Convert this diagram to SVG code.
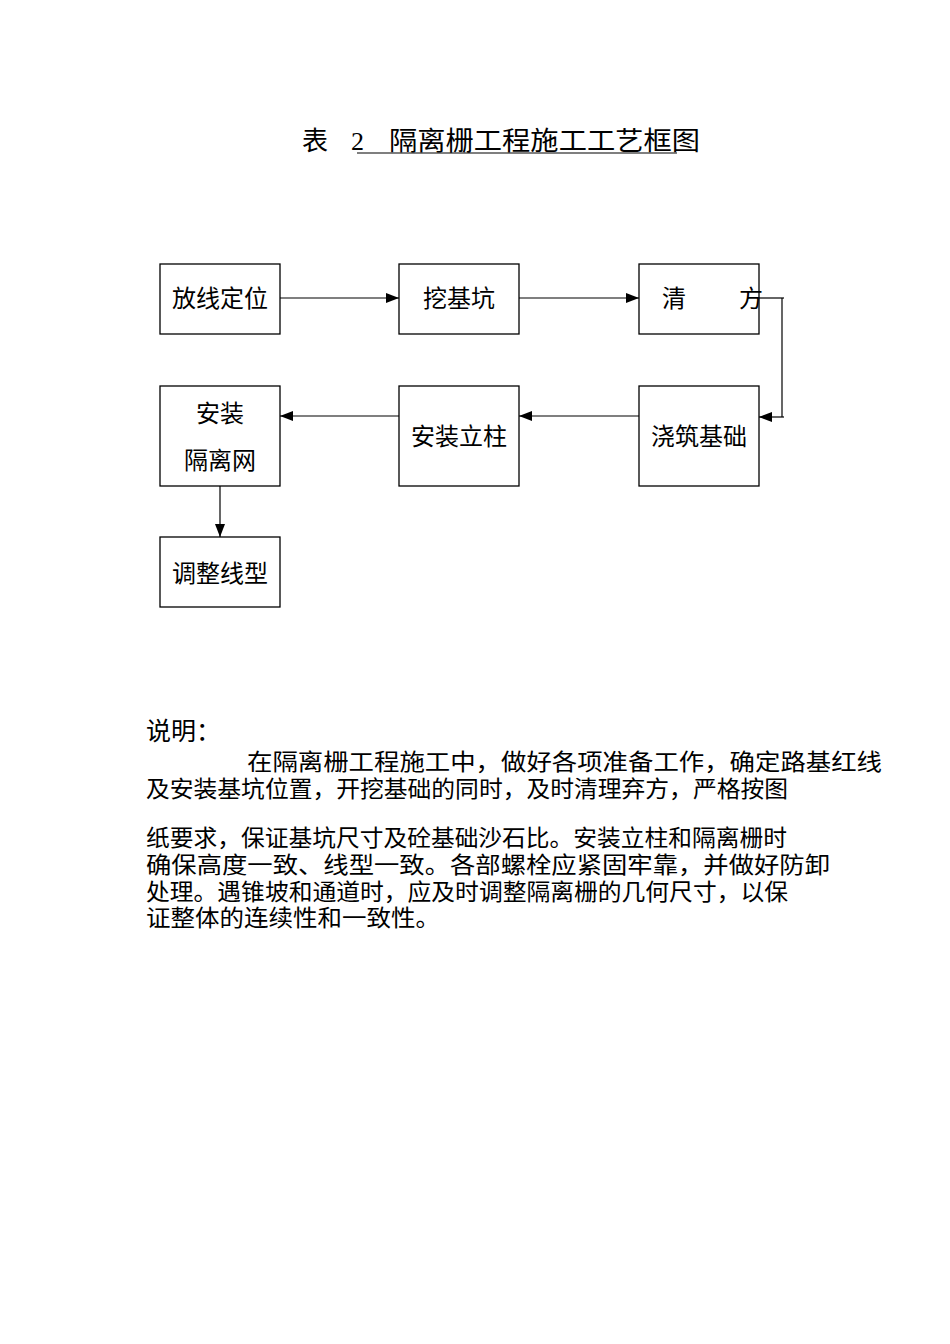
<svg xmlns="http://www.w3.org/2000/svg" width="950" height="1344" viewBox="0 0 950 1344">
<style>
text{font-family:"Liberation Serif","Noto Sans CJK SC",serif;fill:#000}
.box{fill:#fff;stroke:#000;stroke-width:1.3}
.lbl{font-size:24px;text-anchor:middle}
.ln{fill:none;stroke:#000;stroke-width:1.2}
.body{font-size:23px}
</style>
<defs>
<marker id="ah" viewBox="0 0 13 10" refX="13" refY="5" markerWidth="13" markerHeight="10" markerUnits="userSpaceOnUse" orient="auto">
<path d="M0,0 L13,5 L0,10 Z" fill="#000"/>
</marker>
</defs>
<rect width="950" height="1344" fill="#fff"/>
<g id="title">
<text x="302" y="150" font-size="26">表</text>
<text x="351" y="150" font-size="26">2</text>
<text x="389" y="150" font-size="26" textLength="311" lengthAdjust="spacingAndGlyphs">隔离栅工程施工工艺框图</text>
<line x1="357" y1="153" x2="677" y2="153" stroke="#000" stroke-width="1.2"/>
</g>
<g id="connectors">
<line class="ln" x1="280" y1="298" x2="399" y2="298" marker-end="url(#ah)"/>
<line class="ln" x1="519" y1="298" x2="639" y2="298" marker-end="url(#ah)"/>
<polyline class="ln" points="759,298 784,298"/>
<line class="ln" x1="782" y1="298" x2="782" y2="417"/>
<line class="ln" x1="784" y1="417" x2="759" y2="417" marker-end="url(#ah)"/>
<line class="ln" x1="639" y1="416" x2="519" y2="416" marker-end="url(#ah)"/>
<line class="ln" x1="399" y1="416" x2="280" y2="416" marker-end="url(#ah)"/>
<line class="ln" x1="220" y1="486" x2="220" y2="537" marker-end="url(#ah)"/>
</g>
<g id="n1"><rect class="box" x="160" y="264" width="120" height="70"/><text class="lbl" x="220" y="307">放线定位</text></g>
<g id="n2"><rect class="box" x="399" y="264" width="120" height="70"/><text class="lbl" x="459" y="307">挖基坑</text></g>
<g id="n3"><rect class="box" x="639" y="264" width="120" height="70"/><text class="lbl" x="674" y="307">清</text><text class="lbl" x="751" y="307">方</text></g>
<g id="n4"><rect class="box" x="639" y="386" width="120" height="100"/><text class="lbl" x="699" y="445">浇筑基础</text></g>
<g id="n5"><rect class="box" x="399" y="386" width="120" height="100"/><text class="lbl" x="459" y="445">安装立柱</text></g>
<g id="n6"><rect class="box" x="160" y="386" width="120" height="100"/><text class="lbl" x="220" y="422">安装</text><text class="lbl" x="220" y="469">隔离网</text></g>
<g id="n7"><rect class="box" x="160" y="537" width="120" height="70"/><text class="lbl" x="220" y="582">调整线型</text></g>
<g id="desc">
<text x="146" y="740" font-size="25">说明：</text>
<text class="body" x="247" y="770" textLength="635" lengthAdjust="spacingAndGlyphs">在隔离栅工程施工中，做好各项准备工作，确定路基红线</text>
<text class="body" x="146" y="797" textLength="642" lengthAdjust="spacingAndGlyphs">及安装基坑位置，开挖基础的同时，及时清理弃方，严格按图</text>
<text class="body" x="146" y="846" textLength="641" lengthAdjust="spacingAndGlyphs">纸要求，保证基坑尺寸及砼基础沙石比。安装立柱和隔离栅时</text>
<text class="body" x="146" y="873" textLength="684" lengthAdjust="spacingAndGlyphs">确保高度一致、线型一致。各部螺栓应紧固牢靠，并做好防卸</text>
<text class="body" x="146" y="900" textLength="642" lengthAdjust="spacingAndGlyphs">处理。遇锥坡和通道时，应及时调整隔离栅的几何尺寸，以保</text>
<text class="body" x="146" y="926" textLength="294" lengthAdjust="spacingAndGlyphs">证整体的连续性和一致性。</text>
</g>
</svg>
